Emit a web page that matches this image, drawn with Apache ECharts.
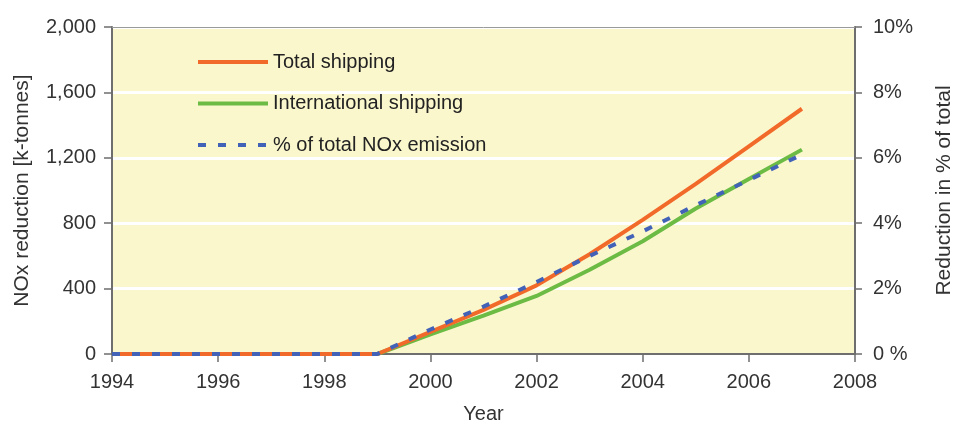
<!DOCTYPE html>
<html>
<head>
<meta charset="utf-8">
<script src="https://cdn.jsdelivr.net/npm/echarts@6/dist/echarts.min.js"></script>
<style>
html,body{margin:0;padding:0;background:#fff;}
#c{width:955px;height:430px;}
</style>
</head>
<body>
<div id="c"></div>
<script>
var years = [1994,1995,1996,1997,1998,1999,2000,2001,2002,2003,2004,2005,2006,2007];
var totalShipping = [0,0,0,0,0,0,135,270,420,610,820,1040,1270,1500];
var internationalShipping = [0,0,0,0,0,0,120,235,355,515,690,890,1070,1250];
var pctTotal = [0,0,0,0,0,0,0.75,1.45,2.2,3.0,3.75,4.55,5.32,6.1];
var seriesNames = ['Total shipping','International shipping','% of total NOx emission'];

function pairs(v){ return years.map(function(y,i){ return [y, v[i]]; }); }

var font = 'Liberation Sans, Arial, Helvetica, sans-serif';
var axisGray = '#6e6e6e';

var chart = echarts.init(document.getElementById('c'), null, {renderer:'canvas'});
chart.setOption({
  animation: false,
  textStyle: {fontFamily: font},
  grid: {left:112, right:100, top:27, bottom:76, show:true, backgroundColor:'#FBF7CD', borderWidth:0,
    containLabel:false, outerBoundsMode:'none'},
  legend: {
    orient:'vertical', left:191, top:47, itemWidth:70, itemHeight:14, itemGap:21.5,
    itemStyle:{opacity:0},
    lineStyle:{width:4},
    textStyle:{fontSize:20, color:'#222', fontFamily:font},
    data: seriesNames
  },
  xAxis: [{
    type:'value', min:1994, max:2008, interval:2,
    name:'Year', nameLocation:'middle', nameGap:50,
    nameTextStyle:{fontSize:20, color:'#333'},
    axisLine:{show:true, lineStyle:{color:axisGray, width:2}},
    axisTick:{show:true, length:8, lineStyle:{color:axisGray, width:1.5}},
    axisLabel:{fontSize:20, color:'#333', margin:18,
      formatter:function(v){ return String(v); }},
    splitLine:{show:false}
  },{
    type:'value', min:1994, max:2008, position:'top',
    axisLine:{show:true, onZero:false, lineStyle:{color:'#9a9a9a', width:1}},
    axisTick:{show:false}, axisLabel:{show:false}, splitLine:{show:false}
  }],
  yAxis: [{
    type:'value', min:0, max:2000, interval:400, position:'left',
    name:'NOx reduction [k-tonnes]', nameLocation:'middle', nameGap:79,
    nameTextStyle:{fontSize:21, color:'#333'},
    axisLine:{show:true, lineStyle:{color:axisGray, width:2}},
    axisTick:{show:true, length:8, lineStyle:{color:axisGray, width:1.5}},
    axisLabel:{fontSize:20, color:'#333', margin:16,
      formatter:function(v){ return v.toLocaleString('en-US'); }},
    splitLine:{show:true, lineStyle:{color:'#ffffff', width:3}}
  },{
    type:'value', min:0, max:10, interval:2, position:'right',
    name:'Reduction in % of total', nameLocation:'middle', nameGap:79,
    nameTextStyle:{fontSize:21, color:'#333'},
    axisLine:{show:true, lineStyle:{color:axisGray, width:2}},
    axisTick:{show:true, length:7, lineStyle:{color:axisGray, width:1.5}},
    axisLabel:{fontSize:20, color:'#333', margin:18,
      formatter:function(v){ return v===0 ? '0 %' : v + '%'; }},
    splitLine:{show:false}
  }],
  series: [{
    name:seriesNames[0], type:'line', xAxisIndex:0, yAxisIndex:0,
    data:pairs(totalShipping), symbol:'none', z:3,
    lineStyle:{color:'#F26A2A', width:4}, itemStyle:{color:'#F26A2A'}
  },{
    name:seriesNames[1], type:'line', xAxisIndex:0, yAxisIndex:0,
    data:pairs(internationalShipping), symbol:'none', z:2,
    lineStyle:{color:'#6CBB45', width:4}, itemStyle:{color:'#6CBB45'}
  },{
    name:seriesNames[2], type:'line', xAxisIndex:0, yAxisIndex:1,
    data:pairs(pctTotal), symbol:'none', z:4,
    lineStyle:{color:'#4262B8', width:4, type:[8,12]}, itemStyle:{color:'#4262B8'}
  }]
});
</script>
</body>
</html>
